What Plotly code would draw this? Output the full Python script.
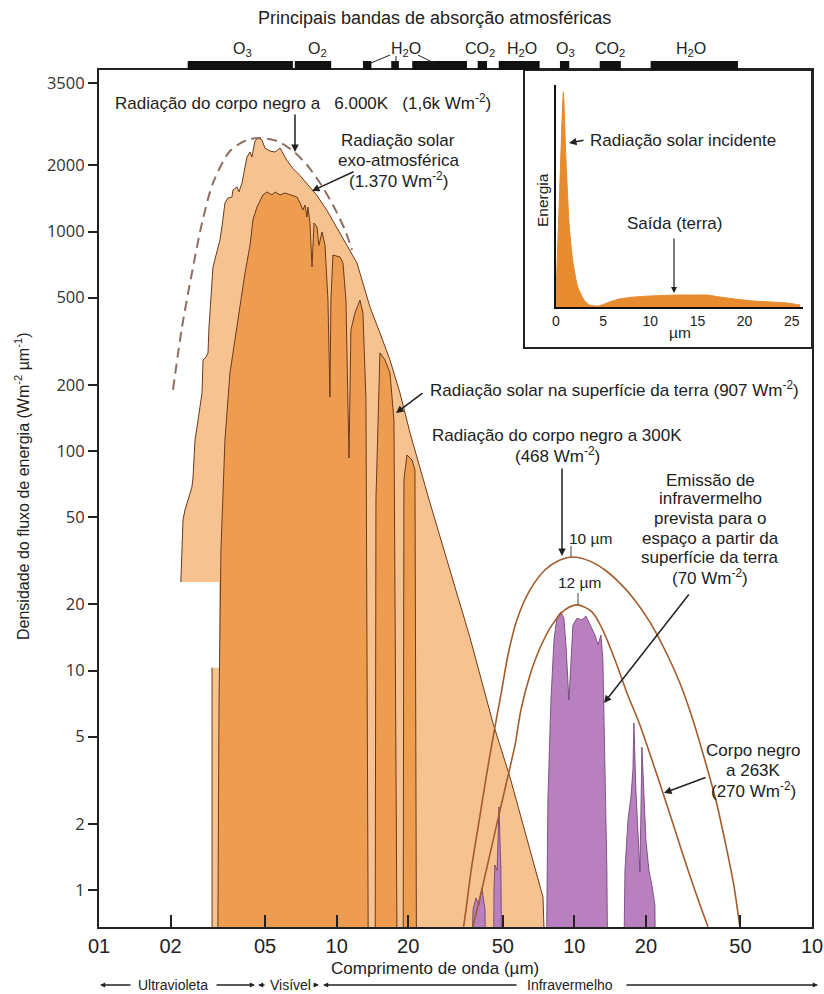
import math
import plotly.graph_objects as go

# ---------------- data ----------------
x_tick_values = [0.1, 0.2, 0.5, 1, 2, 5, 10, 20, 50, 100]
x_tick_labels = ["01", "02", "05", "10", "20", "50", "10", "20", "50", "10"]
y_tick_values = [4750, 2000, 1000, 500, 200, 100, 50, 20, 10, 5, 2, 1]
y_tick_labels = ["3500", "2000", "1000", "500", "200", "100", "50", "20", "10", "5", "2", "1"]

# exo-atmospheric solar spectrum (polygon outline), wavelength in µm, flux in W m-2 µm-1
exo_wl = [0.299, 0.299, 0.320, 0.320, 0.221, 0.2257, 0.230, 0.246, 0.2487, 0.2535, 0.261,
          0.2713, 0.274, 0.282, 0.2875, 0.2903, 0.3017, 0.3136, 0.3228, 0.329, 0.3323, 0.3388,
          0.3488, 0.3626, 0.366, 0.3806, 0.388, 0.3996, 0.4194, 0.4318, 0.440, 0.4532, 0.4665,
          0.4849, 0.499, 0.524, 0.550, 0.5775, 0.6177, 0.6551, 0.701, 0.7502, 0.8262, 0.9103,
          1.003, 1.105, 1.217, 1.290, 1.381, 1.521, 1.676, 1.846, 2.035, 2.47, 3.0, 3.64,
          4.545, 5.36, 6.51, 7.38, 7.90]
exo_flux = [0.1, 10.3, 10.3, 25.3, 25.3, 48.5, 53.9, 68.5, 76.1, 112, 138,
            184, 260, 268, 280, 367, 689, 824, 915, 1048, 1128, 1349,
            1421, 1436, 1545, 1595, 1514, 1665, 2184, 2302, 2184, 2584, 2667,
            2612, 2401, 2326, 2302, 2401, 2106, 1936, 1799, 1655, 1459, 1247,
            1043, 864, 719, 583, 453, 345, 260, 184, 121, 58, 28.7, 14.1,
            5.77, 3.27, 1.52, 0.929, 0.1]

# solar spectrum at the surface (polygon outline)
sfc_wl = [0.3136, 0.320, 0.326, 0.3388, 0.3557, 0.3734, 0.392, 0.4114, 0.4318, 0.4444,
          0.4620, 0.4898, 0.509, 0.5344, 0.550, 0.5775, 0.606, 0.636, 0.6808, 0.701,
          0.7215, 0.7357, 0.7502, 0.7573, 0.772, 0.7876, 0.8028, 0.8262, 0.8424, 0.8677,
          0.893, 0.919, 0.937, 0.946, 0.9647, 1.033, 1.063, 1.094, 1.127, 1.148,
          1.194, 1.253, 1.290, 1.328, 1.367, 1.449, 1.463, 1.521, 1.597, 1.676,
          1.742, 1.811, 1.90, 1.919, 1.976, 2.074, 2.135, 2.177]
sfc_flux = [0.1, 7.34, 35.4, 112, 227, 320, 453, 647, 864, 1128,
            1293, 1467, 1514, 1467, 1514, 1467, 1498, 1467, 1436, 1349,
            1253, 1320, 1164, 1293, 1093, 689, 1093, 1048, 864, 995,
            868, 487, 176, 487, 781, 765, 719, 487, 92.9, 356,
            425, 487, 425, 171, 0.1, 0.1, 59.8, 280, 260, 227,
            138, 0.1, 0.1, 73.8, 95.9, 91.0, 81.9, 0.1]

# infrared emission to space (purple lobes)
ir_main_wl = [7.52, 7.74, 7.97, 8.21, 8.45, 8.78, 9.04, 9.22, 9.49, 9.67, 9.86,
              10.25, 10.76, 11.19, 11.63, 12.21, 12.57, 12.94, 13.19, 13.45, 13.71, 13.98]
ir_main_flux = [0.1, 2.57, 7.34, 13.8, 17.5, 18.5, 17.3, 13.1, 7.34, 11.2, 16.1,
                17.3, 17.0, 17.7, 16.1, 14.5, 13.1, 14.5, 11.2, 3.91, 1.23, 0.1]
ir_20_wl = [15.86, 16.33, 16.81, 17.30, 17.64, 17.81, 18.16, 18.52, 18.88, 19.25,
            19.63, 20.01, 20.60, 21.21, 21.83, 22.26]
ir_20_flux = [0.1, 1.23, 2.08, 2.65, 3.52, 5.77, 2.85, 1.88, 1.21, 4.48,
              2.57, 1.69, 1.23, 1.05, 0.854, 0.1]
ir_5_wl = [4.545, 4.59, 4.63, 4.73, 4.82, 4.91, 5.01]
ir_5_flux = [0.1, 1.0, 1.30, 1.23, 2.39, 1.23, 0.1]
ir_4_wl = [3.60, 3.745, 3.855, 3.97, 4.087, 4.21, 4.29]
ir_4_flux = [0.1, 0.811, 0.920, 0.854, 1.02, 0.811, 0.1]

# black-body curves
bb300_wl = [3.42, 3.50, 3.68, 3.98, 4.27, 4.61, 4.95, 5.26, 5.73, 6.51, 7.52, 8.70, 9.86,
            11.63, 13.45, 15.55, 17.98, 20.8, 24.05, 27.8, 31.55, 35.4, 39.4, 43.4, 46.9, 49.7]
bb300_flux = [0.68, 0.811, 1.23, 2.08, 3.34, 5.36, 8.15, 11.8, 17.0, 23.3, 28.7, 31.9, 32.9,
              31.5, 28.7, 25.0, 20.9, 16.6, 12.4, 8.77, 5.95, 3.91, 2.57, 1.60, 1.05, 0.68]
bb263_wl = [3.74, 3.94, 4.31, 4.76, 5.21, 5.63, 5.96, 6.51, 7.17, 8.05, 9.13, 10.35,
            11.86, 13.06, 14.82, 16.65, 18.88, 21.21, 23.6, 26.5, 30.1, 33.8, 36.5]
bb263_flux = [0.68, 0.854, 1.30, 2.08, 3.17, 4.58, 6.61, 9.54, 12.66, 16.1, 18.9, 19.9,
              18.5, 15.6, 11.2, 7.90, 5.65, 3.91, 2.77, 1.88, 1.23, 0.854, 0.68]
bb6000_wl = [0.2048, 0.2235, 0.246, 0.2713, 0.3017, 0.3557, 0.4194, 0.4756, 0.561, 0.6551,
             0.7502, 0.8507, 0.9647, 1.0838, 1.160]
bb6000_flux = [190, 367, 647, 1093, 1663, 2326, 2612, 2667, 2584, 2326,
               2009, 1663, 1320, 1016, 824]

# inset (linear energy vs wavelength)
inset_wl = [0, 0.39, 0.78, 1.06, 1.41, 1.77, 2.3, 3.0, 3.54, 4.4, 4.9, 5.7, 6.7, 8.3,
            10.2, 12.8, 14.7, 16.0, 17.4, 19.0, 20.9, 22.7, 24.5, 25.9]
inset_energy = [0.06, 0.52, 0.97, 0.66, 0.36, 0.21, 0.09, 0.03, 0.009, 0.004, 0.01, 0.023,
                0.036, 0.045, 0.05, 0.054, 0.054, 0.054, 0.045, 0.036, 0.027, 0.023, 0.018, 0.009]
inset_ticks = [0, 5, 10, 15, 20, 25]

# atmospheric absorption bands (µm)
band_start = [0.2361, 0.6665, 1.290, 1.697, 2.080, 3.920, 4.808, 8.70, 12.79, 20.94]
band_end = [0.6544, 0.9482, 1.400, 1.827, 3.533, 4.290, 7.145, 9.52, 15.69, 48.8]
band_label_text = ["O<sub>3</sub>", "O<sub>2</sub>", "H<sub>2</sub>O", "CO<sub>2</sub>",
                   "H<sub>2</sub>O", "O<sub>3</sub>", "CO<sub>2</sub>", "H<sub>2</sub>O"]
band_label_wl = [0.4035, 0.834, 1.956, 4.01, 6.02, 9.22, 14.12, 30.9]

# ---------------- styling ----------------
FONT = "Liberation Sans, Arial, Helvetica, sans-serif"
TXT = "#222222"
LIGHT = "#F6C290"
DARK = "#EE9D50"
PURPLE = "#B880BF"
OUT = "#6B3A1C"
CURVE = "#A35C2C"
DASH = "#8F6F62"
INSET = "#E88A2E"

L, R, T, B = 99, 812, 70, 927
W, H = 824, 994


def px(x):
    return (x - L) / (R - L)


def py(y):
    return (B - y) / (B - T)


fig = go.Figure()

# exo-atmospheric (light) area
fig.add_trace(go.Scatter(x=exo_wl, y=exo_flux, mode="lines", fill="toself", fillcolor=LIGHT,
                         line=dict(width=0), hoverinfo="skip"))
ox = exo_wl[0:2] + [None] + exo_wl[4:]
oy = exo_flux[0:2] + [None] + exo_flux[4:]
fig.add_trace(go.Scatter(x=ox, y=oy, mode="lines", connectgaps=False,
                         line=dict(color=OUT, width=1), hoverinfo="skip"))
# surface (dark) area
fig.add_trace(go.Scatter(x=sfc_wl, y=sfc_flux, mode="lines", fill="toself", fillcolor=DARK,
                         line=dict(color=OUT, width=1), hoverinfo="skip"))
# purple lobes
for wl, fl in [(ir_main_wl, ir_main_flux), (ir_20_wl, ir_20_flux),
               (ir_5_wl, ir_5_flux), (ir_4_wl, ir_4_flux)]:
    fig.add_trace(go.Scatter(x=wl, y=fl, mode="lines", fill="toself", fillcolor=PURPLE,
                             line=dict(color="#6A3A70", width=0.8), hoverinfo="skip"))
# black-body curves
fig.add_trace(go.Scatter(x=bb300_wl, y=bb300_flux, mode="lines",
                         line=dict(color=CURVE, width=1.6, shape="spline", smoothing=0.8)))
fig.add_trace(go.Scatter(x=bb263_wl, y=bb263_flux, mode="lines",
                         line=dict(color=CURVE, width=1.6, shape="spline", smoothing=0.8)))
fig.add_trace(go.Scatter(x=bb6000_wl, y=bb6000_flux, mode="lines",
                         line=dict(color=DASH, width=2, dash="10px,6px", shape="spline", smoothing=0.8)))
# inset
fig.add_trace(go.Scatter(x=inset_wl, y=inset_energy, xaxis="x2", yaxis="y2", mode="lines",
                         fill="tozeroy", fillcolor=INSET,
                         line=dict(color=INSET, width=1, shape="spline", smoothing=0.5)))

shapes = []
# inset box
shapes.append(dict(type="rect", xref="paper", yref="paper", x0=px(524), x1=px(812),
                   y0=py(348), y1=py(70), fillcolor="white", line=dict(color=TXT, width=2),
                   layer="below"))
# absorption bands
for a, b in zip(band_start, band_end):
    shapes.append(dict(type="rect", xref="x", yref="paper", x0=a, x1=b,
                       y0=py(70), y1=py(61), fillcolor="#111111", line=dict(width=0)))
# H2O leader lines
for (x0, y0, x1, y1) in [(371, 63, 390, 55), (396, 56, 396, 63), (418, 55, 434, 63)]:
    shapes.append(dict(type="line", xref="paper", yref="paper", x0=px(x0), y0=py(y0),
                       x1=px(x1), y1=py(y1), line=dict(color=TXT, width=1)))
# peak marker ticks
for (x0, y0, x1, y1) in [(571, 546, 571, 557), (578, 593, 578, 605)]:
    shapes.append(dict(type="line", xref="paper", yref="paper", x0=px(x0), y0=py(y0),
                       x1=px(x1), y1=py(y1), line=dict(color="#444", width=1)))

ann = []


def text(x, y, s, size=17, xanchor="center", angle=0):
    ann.append(dict(x=px(x), y=py(y), xref="paper", yref="paper", text=s, showarrow=False,
                    xanchor=xanchor, yanchor="middle", textangle=angle,
                    font=dict(family=FONT, size=size, color=TXT)))


def lines(x, ys, strings, size=17):
    for yy, s in zip(ys, strings):
        text(x, yy, s, size=size)


def arrow(hx, hy, tx, ty, size=1.0, width=1.5):
    ann.append(dict(x=px(hx), y=py(hy), xref="paper", yref="paper", text="", showarrow=True,
                    ax=tx - hx, ay=ty - hy, axref="pixel", ayref="pixel",
                    arrowhead=2, arrowsize=size, arrowwidth=width, arrowcolor=TXT,
                    standoff=0, startstandoff=0))


# titles
text(434, 18, "Principais bandas de absorção atmosféricas", size=18)
text(435, 968, "Comprimento de onda (µm)", size=17)
text(22, 487, "Densidade do fluxo de energia (Wm<sup>-2</sup> µm<sup>-1</sup>)", size=16, angle=-90)

# band labels
for s, wl in zip(band_label_text, band_label_wl):
    ann.append(dict(x=math.log10(wl), y=py(49), xref="x", yref="paper", text=s, showarrow=False,
                    xanchor="center", yanchor="middle", font=dict(family=FONT, size=16, color=TXT)))

# main labels
text(113, 102, "Radiação do corpo negro a \u00a0\u00a06.000K \u00a0\u00a0(1,6k Wm<sup>-2</sup>)", xanchor="left")
arrow(295, 152, 295, 113)
lines(398, [140, 160, 180], ["Radiação solar", "exo-atmosférica", "(1.370 Wm<sup>-2</sup>)"])
arrow(312, 191, 355, 171)
text(428, 389, "Radiação solar na superfície da terra (907 Wm<sup>-2</sup>)", xanchor="left")
arrow(396, 413, 424, 392)
lines(557, [435, 455], ["Radiação do corpo negro a 300K", "(468 Wm<sup>-2</sup>)"])
arrow(562, 556, 562, 467)
text(567, 538, "10 µm", xanchor="left", size=15.5)
text(579, 582, "12 µm", size=15.5)
lines(710, [480, 498, 518, 538, 557, 577],
      ["Emissão de", "infravermelho", "prevista para o", "espaço a partir da",
       "superfície da terra", "(70 Wm<sup>-2</sup>)"])
arrow(604, 703, 690, 593)
lines(753, [750, 770, 790], ["Corpo negro", "a 263K", "(270 Wm<sup>-2</sup>)"])
arrow(664, 793, 707, 777)

# inset labels
text(588, 140, "Radiação solar incidente", xanchor="left")
arrow(569, 143, 585, 140)
text(674, 223, "Saída (terra)")
arrow(674, 293, 674, 237, size=1.0, width=1.2)
text(543, 200, "Energia", size=15.5, angle=-90)
text(680, 333, "µm", size=15.5)

# spectral region row
text(173, 985, "Ultravioleta", size=14)
text(290, 985, "Visível", size=14)
text(570, 985, "Infravermelho", size=14)
arrow(100, 985, 132, 985, size=0.8, width=1.3)
arrow(255, 985, 215, 985, size=0.8, width=1.3)
arrow(258, 985, 266, 985, size=0.8, width=1.3)
arrow(319, 985, 312, 985, size=0.8, width=1.3)
arrow(323, 985, 518, 985, size=0.8, width=1.3)
arrow(818, 985, 625, 985, size=0.8, width=1.3)

fig.update_layout(
    width=W, height=H,
    margin=dict(l=L, r=W - R, t=T, b=H - B, autoexpand=False),
    paper_bgcolor="white", plot_bgcolor="rgba(0,0,0,0)",
    showlegend=False,
    font=dict(family=FONT, color=TXT, size=16),
    xaxis=dict(type="log", range=[-1, 2], tickvals=x_tick_values, ticktext=x_tick_labels,
               ticks="inside", ticklen=12, tickwidth=2, tickcolor=TXT,
               showline=True, linewidth=2, linecolor=TXT, mirror=True,
               showgrid=False, zeroline=False,
               tickfont=dict(family=FONT, size=20, color=TXT)),
    yaxis=dict(type="log", range=[(B - 890) / -219.5, (890 - T) / 219.5],
               tickvals=y_tick_values, ticktext=y_tick_labels,
               ticks="outside", ticklen=9, tickwidth=2, tickcolor=TXT,
               showline=True, linewidth=2, linecolor=TXT, mirror=True,
               showgrid=False, zeroline=False,
               tickfont=dict(family="Open Sans, Liberation Sans, sans-serif", size=16.5, color="#333")),
    xaxis2=dict(domain=[px(556), px(803)], anchor="y2", range=[0, 26.2],
                tickvals=inset_ticks, ticks="", showline=True, linewidth=2, linecolor="#111",
                showgrid=False, zeroline=False, tickfont=dict(family=FONT, size=14, color=TXT)),
    yaxis2=dict(domain=[py(307), py(85)], anchor="x2", range=[0, 1],
                showticklabels=False, ticks="", showline=True, linewidth=2, linecolor="#111",
                showgrid=False, zeroline=False),
    shapes=shapes,
    annotations=ann,
)

fig.write_html("out.html", config={"displayModeBar": False, "staticPlot": True},
               post_script="document.body.style.margin='0';")
